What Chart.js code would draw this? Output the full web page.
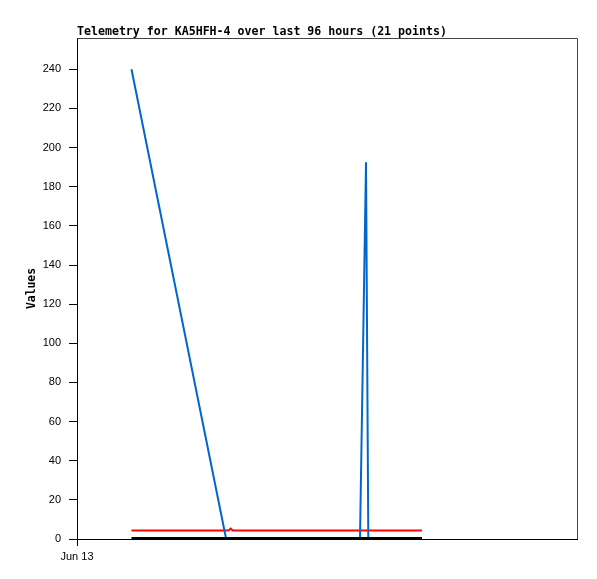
<!DOCTYPE html>
<html>
<head>
  <title>Telemetry for KA5HFH-4</title>
  <style>
    body { margin: 0; background: #fff; }
  </style>
</head>
<body>
<canvas id="telemetryChart" width="597" height="579"></canvas>

<script src="https://cdn.jsdelivr.net/npm/chart.js"></script>
<script>
  // hours since Jun 13 00:00
  const hours = [10.46, 28.6, 29.1, 29.5, 29.9, 33.5, 37.5, 41.5, 45.5, 49.5, 52.5,
                 54.34, 55.49, 55.93, 57.5, 59.0, 60.5, 62.0, 63.5, 65.0, 66.24];
  const blueValues = [240, 0.5, 0.5, 0.5, 0.5, 0.5, 0.5, 0.5, 0.5, 0.5, 0.5,
                      0.5, 192.5, 0.5, 0.5, 0.5, 0.5, 0.5, 0.5, 0.5, 0.5];
  const redValues = [4.3, 4.3, 4.3, 5.3, 4.3, 4.3, 4.3, 4.3, 4.3, 4.3, 4.3,
                     4.3, 4.3, 4.3, 4.3, 4.3, 4.3, 4.3, 4.3, 4.3, 4.3];
  const blackValues = [0.5, 0.5, 0.5, 0.5, 0.5, 0.5, 0.5, 0.5, 0.5, 0.5, 0.5,
                       0.5, 0.5, 0.5, 0.5, 0.5, 0.5, 0.5, 0.5, 0.5, 0.5];
  const xTickHours = [0];
  const xTickLabels = ['Jun 13'];
  const chartTitle = 'Telemetry for KA5HFH-4 over last 96 hours (21 points)';

  function toPoints(values) {
    return values.map((v, i) => ({ x: hours[i], y: v }));
  }

  // title drawn at the left edge of the plot, plus the grey top/right frame
  const framePlugin = {
    id: 'frame',
    afterDraw(chart) {
      const ctx = chart.ctx;
      const a = chart.chartArea;
      ctx.save();
      ctx.strokeStyle = '#444';
      ctx.lineWidth = 1;
      ctx.beginPath();
      ctx.moveTo(Math.round(a.left) + 0.5, Math.round(a.top) + 0.5);
      ctx.lineTo(Math.round(a.right) + 0.5, Math.round(a.top) + 0.5);
      ctx.lineTo(Math.round(a.right) + 0.5, Math.round(a.bottom));
      ctx.stroke();
      ctx.fillStyle = '#000';
      ctx.font = 'bold 11.6px "DejaVu Sans Mono"';
      ctx.textBaseline = 'alphabetic';
      ctx.textAlign = 'left';
      ctx.fillText(chartTitle, a.left, a.top - 3);
      ctx.restore();
    }
  };

  const tickFont = { family: '"Liberation Sans", Arial, sans-serif', size: 11 };

  new Chart(document.getElementById('telemetryChart'), {
    type: 'line',
    data: {
      datasets: [
        {
          label: 'black',
          data: toPoints(blackValues),
          borderColor: '#000000',
          borderWidth: 2,
        },
        {
          label: 'blue',
          data: toPoints(blueValues),
          borderColor: '#0066cc',
          borderWidth: 2,
        },
        {
          label: 'red',
          data: toPoints(redValues),
          borderColor: '#ff0000',
          borderWidth: 2,
        }
      ]
    },
    options: {
      responsive: false,
      animation: false,
      events: [],
      elements: {
        point: { radius: 0 },
        line: { tension: 0, fill: false }
      },
      layout: {
        padding: { top: 38, right: 20, left: 0, bottom: 0 }
      },
      plugins: {
        legend: { display: false },
        tooltip: { enabled: false },
        title: { display: false }
      },
      scales: {
        x: {
          type: 'linear',
          min: 0,
          max: 96,
          afterBuildTicks: scale => {
            scale.ticks = xTickHours.map(v => ({ value: v }));
          },
          afterFit: scale => { scale.height = 40; },
          ticks: {
            color: '#000',
            font: tickFont,
            padding: 4,
            maxRotation: 0,
            callback: (v) => xTickLabels[xTickHours.indexOf(v)] || ''
          },
          grid: {
            drawOnChartArea: false,
            color: '#000',
            tickLength: 7
          },
          border: { color: '#000', width: 1 }
        },
        y: {
          min: 0,
          max: 256,
          afterFit: scale => { scale.width = 77; },
          ticks: {
            stepSize: 20,
            includeBounds: false,
            color: '#000',
            font: tickFont,
            padding: 8
          },
          grid: {
            drawOnChartArea: false,
            color: '#000',
            tickLength: 8
          },
          border: { color: '#000', width: 1 },
          title: {
            display: true,
            text: 'Values',
            color: '#000',
            font: { family: '"DejaVu Sans Mono", monospace', size: 11.4, weight: 'bold' },
            padding: { top: 25, bottom: 0 }
          }
        }
      }
    },
    plugins: [framePlugin]
  });
</script>
</body>
</html>
